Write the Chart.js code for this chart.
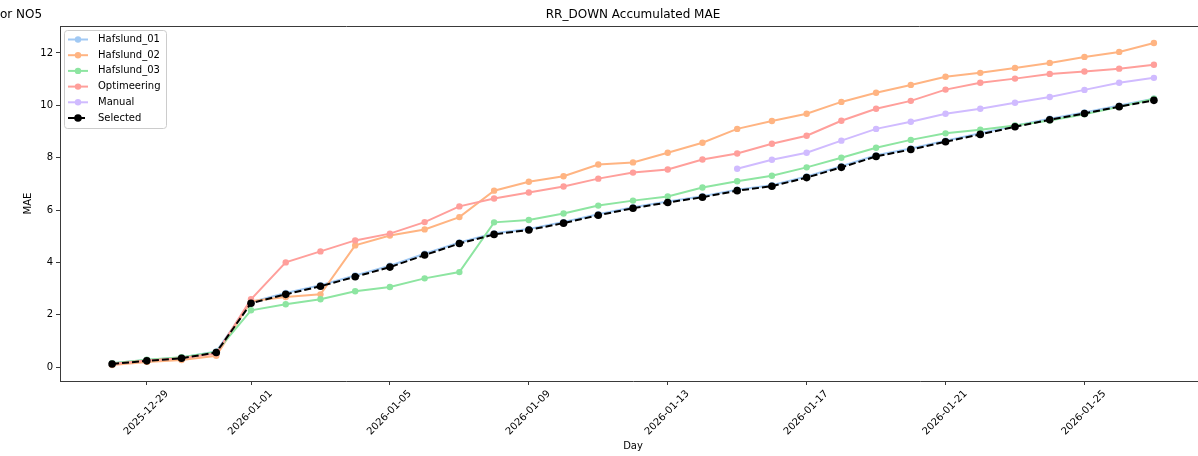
<!DOCTYPE html>
<html>
<head>
<meta charset="utf-8">
<script src="https://cdn.jsdelivr.net/npm/chart.js@4"></script>
<style>
  html, body { margin: 0; padding: 0; background: #fff; overflow: hidden; }
  /* the figure runs a little past the right edge of the picture */
  #wrap { width: 1198px; height: 456px; position: relative; overflow: hidden; }
</style>
</head>
<body>
<div id="wrap"><canvas id="maeChart" width="1210" height="456"></canvas></div>
<script>
// Days on the x axis
const days = [
    '2025-12-28', '2025-12-29', '2025-12-30', '2025-12-31', '2026-01-01', '2026-01-02',
    '2026-01-03', '2026-01-04', '2026-01-05', '2026-01-06', '2026-01-07', '2026-01-08',
    '2026-01-09', '2026-01-10', '2026-01-11', '2026-01-12', '2026-01-13', '2026-01-14',
    '2026-01-15', '2026-01-16', '2026-01-17', '2026-01-18', '2026-01-19', '2026-01-20',
    '2026-01-21', '2026-01-22', '2026-01-23', '2026-01-24', '2026-01-25', '2026-01-26',
    '2026-01-27'
];
const xTickDays = ['2025-12-29', '2026-01-01', '2026-01-05', '2026-01-09', '2026-01-13', '2026-01-17', '2026-01-21', '2026-01-25'];
const yTicks = [0, 2, 4, 6, 8, 10, 12];

// Accumulated MAE per model
const hafslund01 = [0.15, 0.27, 0.37, 0.60, 2.48, 2.83, 3.13, 3.50, 3.87, 4.33, 4.76, 5.11, 5.28, 5.54, 5.84, 6.11, 6.33, 6.53, 6.78, 6.95, 7.28, 7.67, 8.09, 8.35, 8.65, 8.93, 9.22, 9.49, 9.73, 9.99, 10.25];
const hafslund02 = [0.08, 0.20, 0.27, 0.43, 2.52, 2.68, 2.78, 4.65, 5.03, 5.26, 5.73, 6.74, 7.08, 7.29, 7.74, 7.82, 8.19, 8.57, 9.10, 9.40, 9.68, 10.13, 10.48, 10.78, 11.09, 11.24, 11.43, 11.62, 11.85, 12.04, 12.38];
const hafslund03 = [0.15, 0.28, 0.38, 0.58, 2.17, 2.40, 2.59, 2.90, 3.06, 3.39, 3.63, 5.53, 5.62, 5.87, 6.17, 6.36, 6.52, 6.86, 7.10, 7.31, 7.63, 8.00, 8.38, 8.68, 8.93, 9.07, 9.23, 9.42, 9.66, 9.94, 10.25];
const optimeering = [0.12, 0.25, 0.34, 0.52, 2.59, 4.00, 4.42, 4.84, 5.10, 5.54, 6.14, 6.44, 6.67, 6.90, 7.20, 7.43, 7.55, 7.93, 8.16, 8.53, 8.84, 9.41, 9.87, 10.17, 10.60, 10.86, 11.02, 11.20, 11.29, 11.40, 11.55];
const manual = [null, null, null, null, null, null, null, null, null, null, null, null, null, null, null, null, null, null,
    7.58, 7.92, 8.19, 8.65, 9.10, 9.37, 9.68, 9.87, 10.10, 10.32, 10.59, 10.86, 11.05];
const selected = [0.12, 0.24, 0.34, 0.56, 2.44, 2.78, 3.09, 3.45, 3.82, 4.28, 4.72, 5.07, 5.24, 5.50, 5.80, 6.07, 6.29, 6.49, 6.74, 6.91, 7.24, 7.63, 8.05, 8.31, 8.61, 8.89, 9.18, 9.45, 9.69, 9.95, 10.19];

const FONT = "'DejaVu Sans', sans-serif";

function points(values) {
    return days.map((d, i) => ({ x: i, y: values[i] }));
}

function pastel(label, values, color, order) {
    return {
        label: label,
        data: points(values),
        borderColor: color,
        backgroundColor: color,
        pointBackgroundColor: color,
        pointBorderColor: color,
        borderWidth: 2,
        pointRadius: 3.2,
        pointBorderWidth: 0,
        spanGaps: false,
        order: order
    };
}

const datasets = [
    pastel('Hafslund_01', hafslund01, '#a1c9f4', 5),
    pastel('Hafslund_02', hafslund02, '#ffb482', 4),
    pastel('Hafslund_03', hafslund03, '#8de5a1', 3),
    pastel('Optimeering', optimeering, '#ff9f9b', 2),
    pastel('Manual', manual, '#d0bbff', 1),
    {
        label: 'Selected',
        data: points(selected),
        borderColor: '#000',
        backgroundColor: '#000',
        pointBackgroundColor: '#000',
        pointBorderColor: '#000',
        borderWidth: 2,
        borderDash: [7, 3],
        pointRadius: 3.8,
        pointBorderWidth: 0,
        order: 0
    }
];

// Titles, top spine and the boxed legend inside the axes
const decorations = {
    id: 'decorations',
    afterDraw(chart) {
        const ctx = chart.ctx;
        const area = chart.chartArea;
        ctx.save();

        // top spine
        ctx.strokeStyle = '#3a3a3a';
        ctx.lineWidth = 1;
        ctx.beginPath();
        ctx.moveTo(area.left, Math.round(area.top) + 0.5);
        ctx.lineTo(area.right, Math.round(area.top) + 0.5);
        ctx.stroke();

        // titles
        ctx.fillStyle = '#000';
        ctx.font = '12px ' + FONT;
        ctx.textBaseline = 'middle';
        ctx.textAlign = 'center';
        ctx.fillText('RR_DOWN Accumulated MAE', (area.left + area.right) / 2, 15);
        ctx.textAlign = 'left';
        ctx.fillText('or NO5', 0, 15);

        // legend
        const bx = 64.5, by = 30.5, bw = 102, bh = 98;
        ctx.beginPath();
        ctx.roundRect(bx, by, bw, bh, 3);
        ctx.fillStyle = 'rgba(255,255,255,0.8)';
        ctx.fill();
        ctx.strokeStyle = '#cccccc';
        ctx.stroke();

        ctx.font = '10px ' + FONT;
        chart.data.datasets.forEach((ds, k) => {
            const y = 39.5 + k * 15.7;
            ctx.strokeStyle = ds.borderColor;
            ctx.lineWidth = 2;
            ctx.setLineDash(ds.borderDash || []);
            ctx.beginPath();
            ctx.moveTo(68, y);
            ctx.lineTo(88, y);
            ctx.stroke();
            ctx.setLineDash([]);
            ctx.fillStyle = ds.pointBackgroundColor;
            ctx.beginPath();
            ctx.arc(78, y, ds.pointRadius, 0, Math.PI * 2);
            ctx.fill();
            ctx.fillStyle = '#000';
            ctx.textAlign = 'left';
            ctx.fillText(ds.label, 98, y);
        });
        ctx.restore();
    }
};

const ctx = document.getElementById('maeChart').getContext('2d');
const maeChart = new Chart(ctx, {
    type: 'line',
    data: { datasets: datasets },
    options: {
        responsive: false,
        animation: false,
        devicePixelRatio: 1,
        layout: { padding: { top: 26, left: 0, right: 0, bottom: 0 } },
        plugins: {
            legend: { display: false },
            title: { display: false },
            tooltip: { enabled: false }
        },
        scales: {
            x: {
                type: 'linear',
                min: -1.5,
                max: 31.5,
                afterFit(scale) {
                    scale.height = 75;
                    scale.paddingLeft = 0;
                    scale.paddingRight = 0;
                },
                afterBuildTicks(scale) {
                    scale.ticks = xTickDays.map(d => ({ value: days.indexOf(d) }));
                },
                grid: { drawOnChartArea: false, drawTicks: true, tickLength: 4, color: '#3a3a3a' },
                border: { display: true, color: '#3a3a3a', width: 1 },
                ticks: {
                    autoSkip: false,
                    minRotation: 45,
                    maxRotation: 45,
                    labelOffset: 20,
                    padding: 3,
                    color: '#000',
                    font: { family: FONT, size: 10 },
                    callback: (v) => days[v]
                },
                title: {
                    display: true,
                    text: 'Day',
                    color: '#000',
                    font: { family: FONT, size: 10 },
                    padding: { top: 0, bottom: 4 }
                }
            },
            y: {
                min: -0.53,
                max: 13.03,
                afterFit(scale) {
                    scale.width = 60;
                    scale.paddingTop = 0;
                    scale.paddingBottom = 0;
                },
                afterBuildTicks(scale) {
                    scale.ticks = yTicks.map(v => ({ value: v }));
                },
                grid: { drawOnChartArea: false, drawTicks: true, tickLength: 4, color: '#3a3a3a' },
                border: { display: true, color: '#3a3a3a', width: 1 },
                ticks: {
                    padding: 3,
                    color: '#000',
                    font: { family: FONT, size: 10 }
                },
                title: {
                    display: true,
                    text: 'MAE',
                    color: '#000',
                    font: { family: FONT, size: 10 },
                    padding: { top: 22, bottom: 0 }
                }
            }
        }
    },
    plugins: [decorations]
});
</script>
</body>
</html>
